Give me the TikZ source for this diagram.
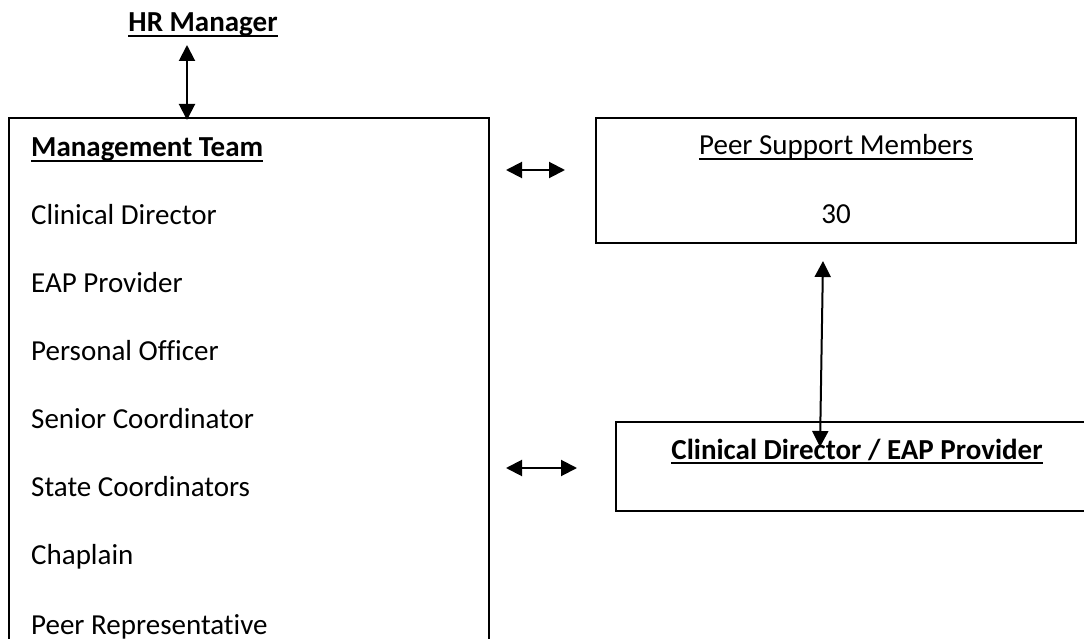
\documentclass[tikz,border=0pt]{standalone}
\usepackage{fontspec}
\setmainfont[Ligatures=CommonOff]{Carlito}
\usetikzlibrary{arrows.meta}
\tikzset{
  box/.style={draw=black, line width=2pt},
  txt/.style={inner sep=0pt, anchor=base west, font=\fontsize{29}{35}\selectfont},
  ctxt/.style={inner sep=0pt, anchor=base, font=\fontsize{29}{35}\selectfont},
  uline/.style={line width=2pt},
  link/.style={line width=2pt, {Triangle[length=16pt,width=16pt]}-{Triangle[length=16pt,width=16pt]}},
}
\begin{document}
\begin{tikzpicture}[x=1pt, y=-1pt]
\useasboundingbox (0,0) rectangle (1084,639);
\clip (0,0) rectangle (1084,639);
% boxes
\draw[box] (9,700) -- (9,118) -- (489,118) -- (489,700);
\coordinate (mtop) at (187,120);
\draw[box] (596,118) rectangle (1076,243);
\draw[box] (1100,422) -- (616,422) -- (616,511) -- (1100,511);
% HR manager
\node[ctxt, font=\fontsize{29}{35}\selectfont\bfseries] (hr) at (203,32) {HR Manager};
\draw[uline] ([yshift=-4pt]hr.base west) -- ([yshift=-4pt]hr.base east);
\coordinate (hrb) at (187,45);
\draw[link] (hrb) -- (mtop);
% management list
\node[txt, font=\fontsize{29}{35}\selectfont\bfseries] (mt) at (31,157) {Management Team};
\draw[uline] ([yshift=-4pt]mt.base west) -- ([yshift=-4pt]mt.base east);
\node[txt] (cd) at (31,225) {Clinical Director};
\node[txt] (eap) at (31,292) {EAP Provider};
\node[txt] (po) at (31,360) {Personal Officer};
\node[txt] (sc) at (31,428) {Senior Coordinator};
\node[txt] (stc) at (31,496) {State Coordinators};
\node[txt] (ch) at (31,564) {Chaplain};
\node[txt] (pr) at (31,634) {Peer Representative};
% peer support
\node[ctxt] (psm) at (836,155) {Peer Support Members};
\draw[line width=1.5pt] ([yshift=-4pt]psm.base west) -- ([yshift=-4pt]psm.base east);
\node[ctxt] (n30) at (836,223) {30};
% clinical director box text
\node[ctxt, font=\fontsize{29}{35}\selectfont\bfseries] (cde) at (857,459) {Clinical Director / EAP Provider};
\draw[uline] ([yshift=-4pt]cde.base west) -- ([yshift=-4pt]cde.base east);
% horizontal arrows
\coordinate (a1l) at (506,170);
\coordinate (a1r) at (565,170);
\draw[link] (a1l) -- (a1r);
\coordinate (a2l) at (506,468);
\coordinate (a2r) at (577,468);
\draw[link] (a2l) -- (a2r);
% vertical arrow
\coordinate (vt) at (823,261);
\coordinate (vb) at (820,447);
\draw[link] (vt) -- (vb);
\end{tikzpicture}
\end{document}
